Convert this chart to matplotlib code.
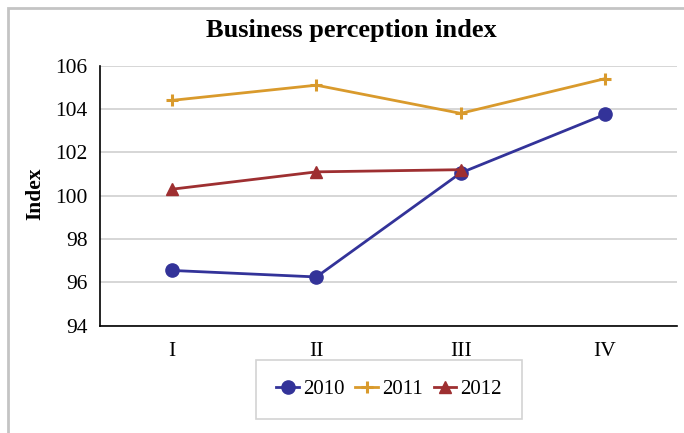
import numpy as np
import matplotlib.pyplot as plt
from matplotlib.patches import Rectangle

quarters = ['I', 'II', 'III', 'IV']
idx_2010 = [96.55, 96.25, 101.05, 103.75]
idx_2011 = [104.4, 105.1, 103.8, 105.4]
idx_2012 = [100.3, 101.1, 101.2]

plt.rcParams['font.family'] = ['Liberation Serif', 'DejaVu Serif']

fig = plt.figure(figsize=(6.84, 4.33), dpi=100)
ax = fig.add_axes([0.1462, 0.2478, 0.8436, 0.6005])

x = np.arange(len(quarters))
ax.plot(x, idx_2010, color='#333399', lw=2, marker='o', ms=9.5, label='2010', zorder=3)
ax.plot(x, idx_2011, color='#D99A2C', lw=2, marker='+', ms=9, mew=2.2, label='2011', zorder=3)
ax.plot(x[:len(idx_2012)], idx_2012, color='#9E2F31', lw=2, marker='^', ms=8, label='2012', zorder=4)

ax.set_xlim(-0.5, 3.5)
ax.set_ylim(94, 106)
ax.set_yticks(np.arange(94, 107, 2))
ax.set_xticks(x)
ax.set_xticklabels(quarters)
ax.tick_params(axis='both', length=0, labelsize=15.5)
ax.tick_params(axis='y', pad=9)
ax.tick_params(axis='x', pad=12)
ax.grid(axis='y', color='#D0D0D0', lw=1.2)
ax.set_axisbelow(True)
for s in ['top', 'right']:
    ax.spines[s].set_visible(False)
for s in ['left', 'bottom']:
    ax.spines[s].set_color('black')
    ax.spines[s].set_linewidth(1.2)

fig.text(0.513, 0.93, 'Business perception index', ha='center', va='center',
         fontsize=19, fontweight='bold')
fig.text(0.052, 0.552, 'Index', ha='center', va='center', rotation=90,
         fontsize=15.5, fontweight='bold')

leg = fig.legend(loc='center', bbox_to_anchor=(0.569, 0.100), ncol=3, fontsize=15,
                 frameon=True, fancybox=False, handlelength=1.1, handletextpad=0.2,
                 columnspacing=0.5, borderpad=0.95)
leg.get_frame().set_edgecolor('#C8C8C8')
leg.get_frame().set_linewidth(1.2)

# outer chart frame
fig.patches.append(Rectangle((8 / 684, -0.1), 1.2, 1.1 - 8 / 433,
                             transform=fig.transFigure, fill=False,
                             edgecolor='#C4C4C4', lw=2))

fig.savefig('out.png', dpi=100)
